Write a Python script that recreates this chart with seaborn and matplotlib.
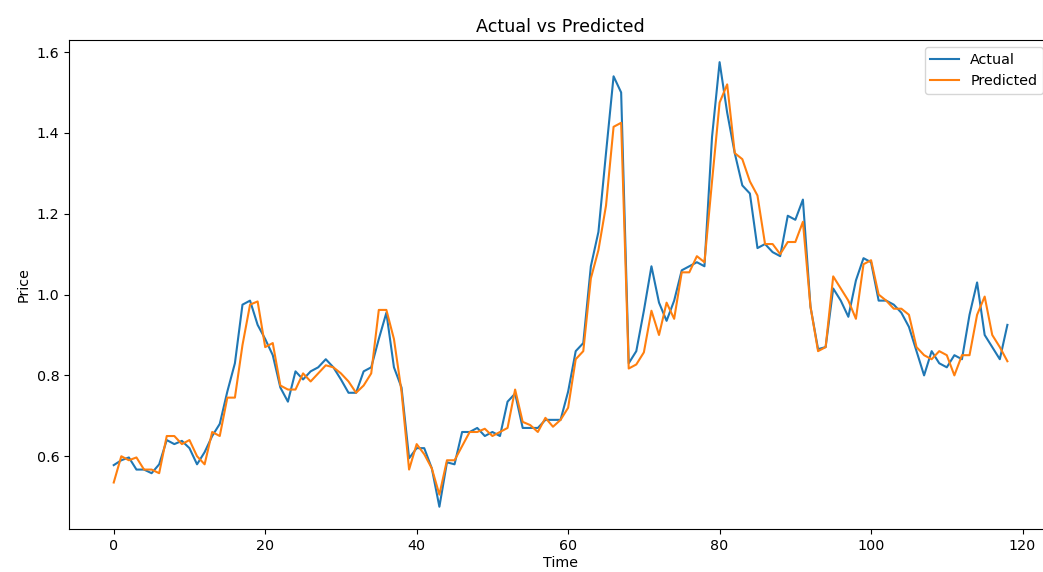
import numpy as np
import pandas as pd
import matplotlib
matplotlib.use("Agg")
import matplotlib.pyplot as plt
import seaborn as sns

actual = [
    0.578, 0.590, 0.597, 0.567, 0.567, 0.558, 0.580, 0.640, 0.630, 0.638,
    0.620, 0.580, 0.610, 0.650, 0.680, 0.760, 0.830, 0.975, 0.985, 0.925,
    0.890, 0.850, 0.770, 0.735, 0.810, 0.790, 0.810, 0.820, 0.840, 0.820,
    0.790, 0.757, 0.757, 0.810, 0.820, 0.890, 0.955, 0.820, 0.770, 0.595,
    0.620, 0.620, 0.570, 0.475, 0.585, 0.580, 0.660, 0.660, 0.670, 0.650,
    0.660, 0.650, 0.735, 0.755, 0.670, 0.670, 0.670, 0.690, 0.690, 0.690,
    0.760, 0.860, 0.880, 1.070, 1.155, 1.350, 1.540, 1.500, 0.830, 0.860,
    0.960, 1.070, 0.980, 0.935, 0.985, 1.060, 1.070, 1.080, 1.070, 1.390,
    1.575, 1.450, 1.350, 1.270, 1.250, 1.115, 1.125, 1.105, 1.095, 1.195,
    1.185, 1.235, 0.970, 0.865, 0.870, 1.015, 0.985, 0.945, 1.035, 1.090,
    1.080, 0.985, 0.985, 0.975, 0.955, 0.920, 0.860, 0.800, 0.860, 0.830,
    0.820, 0.850, 0.840, 0.950, 1.030, 0.900, 0.870, 0.840, 0.925,
]

predicted = [
    0.535, 0.600, 0.590, 0.597, 0.567, 0.567, 0.558, 0.650, 0.650, 0.630,
    0.640, 0.600, 0.580, 0.660, 0.650, 0.745, 0.745, 0.875, 0.975, 0.983,
    0.870, 0.880, 0.775, 0.765, 0.765, 0.805, 0.785, 0.805, 0.825, 0.820,
    0.805, 0.785, 0.757, 0.775, 0.805, 0.962, 0.962, 0.890, 0.760, 0.567,
    0.630, 0.605, 0.570, 0.505, 0.590, 0.590, 0.625, 0.660, 0.660, 0.668,
    0.650, 0.660, 0.670, 0.765, 0.685, 0.677, 0.660, 0.695, 0.673, 0.690,
    0.720, 0.840, 0.860, 1.040, 1.110, 1.220, 1.415, 1.425, 0.817, 0.827,
    0.857, 0.960, 0.900, 0.980, 0.940, 1.055, 1.055, 1.095, 1.080, 1.280,
    1.475, 1.520, 1.350, 1.335, 1.280, 1.245, 1.125, 1.125, 1.100, 1.130,
    1.130, 1.180, 0.970, 0.860, 0.870, 1.045, 1.015, 0.985, 0.940, 1.075,
    1.085, 1.000, 0.985, 0.965, 0.965, 0.950, 0.870, 0.850, 0.840, 0.860,
    0.850, 0.800, 0.850, 0.850, 0.950, 0.995, 0.900, 0.870, 0.835,
]

time = np.arange(len(actual))

df = pd.DataFrame({"Time": time, "Actual": actual, "Predicted": predicted})
long_df = df.melt(id_vars="Time", var_name="Series", value_name="Price")

plt.rcParams["font.size"] = 10.25

fig = plt.figure(figsize=(10.43, 5.72), dpi=100)
# the plot area runs slightly past the right edge of the canvas
ax = fig.add_axes([0.0662, 0.0752, 0.9425, 0.855])

sns.lineplot(data=long_df, x="Time", y="Price", hue="Series",
             palette=["#1f77b4", "#ff7f0e"], linewidth=1.5, ax=ax)

ax.set_title("Actual vs Predicted", fontsize=12.6)
ax.set_xlabel("Time", labelpad=2.5)
ax.set_ylabel("Price")
ax.legend(loc="upper right", bbox_to_anchor=(0.998, 1.0))

fig.savefig("out.png", dpi=100)
